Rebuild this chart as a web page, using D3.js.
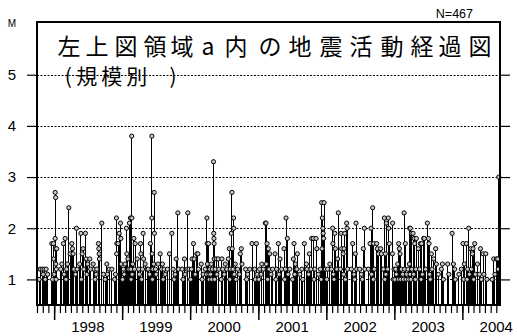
<!DOCTYPE html>
<html><head><meta charset="utf-8">
<script src="https://cdn.jsdelivr.net/npm/d3@7"></script>
<style>body{margin:0;background:#fff}svg{display:block}</style>
</head><body>
<svg id="c" width="517" height="336"></svg>
<script>
// ---- data: [decimal year, magnitude] ----
const ev1997=[[1997.779,1.0],[1997.794,1.2],[1997.824,1.2],[1997.838,1.1],[1997.853,1.2],[1997.868,1.0],[1997.882,1.2],[1997.904,1.1],[1997.966,1.7],[1997.978,1.0],[1997.990,1.7],[1997.993,1.4]];
const ev1998=[[1998.000,1.1],[1998.015,2.7],[1998.022,2.6],[1998.015,1.8],[1998.019,1.6],[1998.024,1.3],[1998.029,1.0],[1998.032,1.2],[1998.037,1.6],[1998.096,1.2],[1998.113,1.3],[1998.137,1.7],[1998.147,1.1],[1998.162,1.8],[1998.174,1.0],[1998.184,1.2],[1998.196,1.3],[1998.216,2.4],[1998.235,1.5],[1998.260,1.7],[1998.269,1.6],[1998.279,1.5],[1998.290,1.2],[1998.313,1.1],[1998.328,2.0],[1998.338,1.2],[1998.375,1.3],[1998.393,1.9],[1998.401,1.0],[1998.412,1.5],[1998.426,1.6],[1998.437,1.2],[1998.460,1.9],[1998.471,1.4],[1998.482,1.1],[1998.493,1.3],[1998.525,1.4],[1998.537,1.2],[1998.574,1.3],[1998.588,1.2],[1998.603,1.0],[1998.618,1.1],[1998.628,1.2],[1998.651,1.7],[1998.657,1.6],[1998.662,1.5],[1998.666,1.4],[1998.701,2.1],[1998.725,1.1],[1998.750,1.0],[1998.775,1.3],[1998.784,1.1],[1998.809,1.2],[1998.849,1.2],[1998.890,1.0],[1998.901,1.1],[1998.916,2.2],[1998.922,1.7],[1998.919,1.5],[1998.941,1.7],[1998.956,1.9],[1998.975,2.1],[1998.981,1.8],[1998.985,1.3]];
const ev1999=[[1999.007,1.0],[1999.019,1.2],[1999.029,1.1],[1999.044,1.3],[1999.063,2.0],[1999.069,1.5],[1999.085,1.4],[1999.099,1.2],[1999.107,2.1],[1999.122,2.2],[1999.128,1.2],[1999.132,1.0],[1999.140,3.8],[1999.143,2.2],[1999.147,1.1],[1999.154,1.3],[1999.172,1.8],[1999.181,1.2],[1999.191,1.7],[1999.221,1.4],[1999.243,1.2],[1999.254,1.1],[1999.269,1.7],[1999.276,1.5],[1999.287,1.0],[1999.299,1.2],[1999.309,1.9],[1999.316,1.4],[1999.338,1.3],[1999.368,1.2],[1999.382,1.2],[1999.404,1.1],[1999.416,1.7],[1999.437,3.8],[1999.437,2.2],[1999.441,1.5],[1999.446,1.0],[1999.451,1.2],[1999.463,1.3],[1999.471,2.7],[1999.475,1.9],[1999.490,1.2],[1999.500,1.1],[1999.529,1.3],[1999.559,1.5],[1999.581,1.2],[1999.593,1.3],[1999.603,1.0],[1999.618,1.2],[1999.632,1.1],[1999.666,1.2],[1999.696,1.5],[1999.731,1.9],[1999.750,1.2],[1999.765,1.0],[1999.779,1.1],[1999.794,1.4],[1999.819,2.3],[1999.828,1.2],[1999.882,1.2],[1999.897,1.0],[1999.916,1.4],[1999.926,1.1],[1999.956,1.2],[1999.966,2.3],[1999.985,1.2]];
const ev2000=[[2000.007,1.0],[2000.019,1.2],[2000.029,1.4],[2000.049,1.7],[2000.059,1.4],[2000.074,1.1],[2000.099,1.5],[2000.113,1.5],[2000.122,1.2],[2000.162,1.3],[2000.176,1.0],[2000.191,1.1],[2000.221,1.2],[2000.240,1.1],[2000.246,2.2],[2000.250,1.7],[2000.254,1.3],[2000.269,1.7],[2000.275,1.1],[2000.279,1.0],[2000.287,1.2],[2000.301,1.1],[2000.309,1.3],[2000.316,1.0],[2000.324,1.2],[2000.343,3.3],[2000.346,1.9],[2000.349,1.8],[2000.351,1.7],[2000.353,1.4],[2000.360,1.0],[2000.368,1.2],[2000.382,1.4],[2000.393,1.1],[2000.412,1.4],[2000.422,1.2],[2000.456,1.0],[2000.466,1.4],[2000.478,1.2],[2000.500,1.1],[2000.515,1.3],[2000.537,1.2],[2000.559,1.4],[2000.574,1.6],[2000.581,1.0],[2000.588,1.2],[2000.603,1.9],[2000.613,2.7],[2000.618,1.6],[2000.628,1.2],[2000.637,2.2],[2000.640,2.0],[2000.647,1.1],[2000.662,1.3],[2000.672,1.0],[2000.696,1.2],[2000.721,1.1],[2000.735,1.5],[2000.750,1.6],[2000.760,1.3],[2000.813,1.2],[2000.828,1.0],[2000.843,1.1],[2000.875,1.2],[2000.907,1.7],[2000.946,1.2],[2000.956,1.0],[2000.971,1.7],[2000.981,1.1]];
const ev2001=[[2001.007,1.0],[2001.019,1.2],[2001.040,1.1],[2001.051,1.3],[2001.074,1.2],[2001.103,2.1],[2001.113,2.1],[2001.118,1.3],[2001.128,1.7],[2001.137,1.0],[2001.147,1.6],[2001.157,1.2],[2001.166,1.5],[2001.187,1.1],[2001.210,1.2],[2001.246,1.5],[2001.257,1.0],[2001.269,1.2],[2001.294,1.7],[2001.304,1.1],[2001.319,1.4],[2001.343,1.2],[2001.378,1.6],[2001.387,1.0],[2001.397,1.2],[2001.407,2.2],[2001.426,1.8],[2001.437,1.1],[2001.463,1.2],[2001.504,1.0],[2001.515,1.4],[2001.525,1.7],[2001.534,1.1],[2001.544,1.3],[2001.566,1.2],[2001.574,1.5],[2001.610,1.1],[2001.640,1.2],[2001.654,1.0],[2001.676,1.7],[2001.706,1.3],[2001.716,1.2],[2001.740,1.1],[2001.750,1.5],[2001.772,1.2],[2001.784,1.8],[2001.809,1.8],[2001.819,1.0],[2001.831,1.2],[2001.849,1.8],[2001.860,1.6],[2001.882,1.1],[2001.912,1.2],[2001.922,1.0],[2001.931,2.5],[2001.937,1.6],[2001.941,2.2],[2001.949,2.0],[2001.953,1.9],[2001.959,1.8],[2001.966,2.5],[2001.985,1.2]];
const ev2002=[[2002.007,1.0],[2002.019,1.2],[2002.051,1.3],[2002.074,1.2],[2002.093,2.0],[2002.096,1.7],[2002.103,1.1],[2002.113,1.0],[2002.125,1.9],[2002.132,1.6],[2002.154,1.2],[2002.166,1.4],[2002.176,2.3],[2002.206,1.2],[2002.216,1.9],[2002.225,1.6],[2002.246,1.5],[2002.254,1.1],[2002.260,1.6],[2002.272,1.9],[2002.279,1.0],[2002.299,2.1],[2002.304,2.0],[2002.313,1.2],[2002.368,1.2],[2002.387,1.7],[2002.407,1.1],[2002.416,1.0],[2002.426,1.5],[2002.437,2.1],[2002.446,1.2],[2002.490,1.2],[2002.515,1.1],[2002.529,1.0],[2002.544,1.6],[2002.559,2.0],[2002.566,1.2],[2002.618,1.2],[2002.643,1.7],[2002.657,2.0],[2002.666,1.1],[2002.681,2.4],[2002.691,1.0],[2002.696,1.7],[2002.706,1.2],[2002.740,1.7],[2002.750,1.6],[2002.765,1.5],[2002.799,1.6],[2002.809,1.5],[2002.838,1.2],[2002.853,2.2],[2002.860,1.0],[2002.868,1.5],[2002.875,1.1],[2002.882,2.1],[2002.902,1.2],[2002.912,2.2],[2002.916,2.0],[2002.926,1.7],[2002.971,1.5],[2002.975,2.1],[2002.985,1.0],[2002.996,1.2]];
const ev2003=[[2003.007,1.0],[2003.019,1.2],[2003.029,1.1],[2003.049,1.3],[2003.059,1.0],[2003.063,1.7],[2003.074,1.6],[2003.084,1.5],[2003.093,1.0],[2003.103,1.2],[2003.122,1.1],[2003.132,1.0],[2003.143,2.3],[2003.151,1.2],[2003.162,1.7],[2003.172,1.0],[2003.181,1.1],[2003.201,1.2],[2003.210,1.0],[2003.221,1.3],[2003.225,2.0],[2003.231,1.1],[2003.235,2.0],[2003.243,1.0],[2003.250,1.9],[2003.257,1.2],[2003.275,1.9],[2003.284,1.1],[2003.290,1.8],[2003.299,1.7],[2003.309,1.0],[2003.316,1.2],[2003.324,1.8],[2003.353,1.6],[2003.372,1.2],[2003.382,1.7],[2003.393,1.0],[2003.401,1.7],[2003.412,1.1],[2003.431,1.8],[2003.441,1.8],[2003.460,1.2],[2003.485,2.1],[2003.500,1.8],[2003.510,1.7],[2003.519,1.1],[2003.529,1.0],[2003.544,1.5],[2003.554,1.2],[2003.578,1.4],[2003.607,1.6],[2003.618,1.3],[2003.647,1.1],[2003.691,1.2],[2003.706,1.3],[2003.721,1.0],[2003.784,1.3],[2003.801,1.1],[2003.849,1.9],[2003.868,1.3],[2003.887,1.2],[2003.897,1.0],[2003.949,1.1],[2003.985,1.2]];
const ev2004=[[2004.010,1.7],[2004.019,1.0],[2004.029,1.3],[2004.059,1.7],[2004.069,1.0],[2004.078,1.2],[2004.093,2.0],[2004.103,1.1],[2004.122,1.6],[2004.132,1.2],[2004.147,1.5],[2004.157,1.6],[2004.166,1.0],[2004.181,1.7],[2004.191,1.1],[2004.221,1.3],[2004.250,1.1],[2004.265,1.6],[2004.279,1.0],[2004.304,1.5],[2004.316,1.1],[2004.343,1.5],[2004.360,1.0],[2004.437,1.0],[2004.460,1.4],[2004.478,1.1],[2004.500,1.4],[2004.519,1.4],[2004.526,1.2],[2004.534,3.0]];

const magTicks=[1,2,3,4,5];
const yearLabels=["1998","1999","2000","2001","2002","2003","2004"];
const countLabel="N=467";
const axisLabel="M";
const title1=["左","上","図","領","域","a","内","の","地","震","活","動","経","過","図"];
const title2=["(","規","模","別",")"];

// ---- layout ----
const svg=d3.select("#c");
const L=37,R=500,T=22,B=305;
const toDate=v=>{const yr=Math.floor(v);const s=new Date(yr,0,1),e=new Date(yr+1,0,1);return new Date(+s+(v-yr)*(e-s));};
const events=[].concat(ev1997,ev1998,ev1999,ev2000,ev2001,ev2002,ev2003,ev2004).map(([t,m])=>({date:toDate(t),m}));
const x=d3.scaleTime().domain([new Date(1997,9,1),new Date(2004,6,21)]).range([L,R]);
const y=d3.scaleLinear().domain([0.5,6.03]).range([B,T]);
const font="'Liberation Sans',Arial,Helvetica,sans-serif";

// gridlines
svg.append("g").selectAll("line").data(magTicks).join("line")
  .attr("x1",L).attr("x2",R).attr("y1",d=>Math.round(y(d))+0.5).attr("y2",d=>Math.round(y(d))+0.5)
  .attr("stroke","#000").attr("stroke-width",1).attr("stroke-dasharray","2,1.5");

// stems
svg.append("g").attr("shape-rendering","crispEdges").selectAll("line").data(events).join("line")
  .attr("x1",d=>x(d.date)).attr("x2",d=>x(d.date))
  .attr("y1",B).attr("y2",d=>y(d.m))
  .attr("stroke","#000").attr("stroke-width",1);
// heads
svg.append("g").selectAll("circle").data(events).join("circle")
  .attr("cx",d=>x(d.date)).attr("cy",d=>y(d.m)).attr("r",2.1)
  .attr("fill","#c8c8c8").attr("stroke","#000").attr("stroke-width",1);

// y axes
const yl=svg.append("g").attr("transform",`translate(${L},0)`)
  .call(d3.axisLeft(y).tickValues(magTicks).tickSize(10).tickFormat(d3.format("d")));
yl.select(".domain").remove();
yl.selectAll("line").attr("stroke","#000").attr("stroke-width",1.2);
yl.selectAll("text").attr("x",-25).attr("text-anchor","middle").attr("font-family",font).attr("font-size",15).attr("fill","#000");
const yr=svg.append("g").attr("transform",`translate(${R},0)`)
  .call(d3.axisRight(y).tickValues(magTicks).tickSize(10).tickFormat(""));
yr.select(".domain").remove();
yr.selectAll("line").attr("stroke","#000").attr("stroke-width",1.2);

// x axes
const xm=svg.append("g").attr("transform",`translate(0,${B})`)
  .call(d3.axisBottom(x).tickValues(d3.timeMonth.range(x.domain()[0],x.domain()[1])).tickSize(8).tickFormat(""));
xm.select(".domain").remove();
xm.selectAll("line").attr("stroke","#000").attr("stroke-width",1.2);
const xy=svg.append("g").attr("transform",`translate(0,${B})`)
  .call(d3.axisBottom(x).tickValues(d3.timeYear.range(new Date(1998,0,1),x.domain()[1])).tickSize(15).tickFormat(""));
xy.select(".domain").remove();
xy.selectAll("line").attr("stroke","#000").attr("stroke-width",1.5);
svg.append("g").selectAll("text").data(yearLabels).join("text")
  .attr("x",d=>x(new Date(+d,6,1))).attr("y",332).attr("text-anchor","middle")
  .attr("font-family",font).attr("font-size",15).attr("fill","#000").text(d=>d);

// frame
svg.append("rect").attr("x",L).attr("y",T).attr("width",R-L).attr("height",B-T)
  .attr("fill","none").attr("stroke","#000").attr("stroke-width",2);

// labels
svg.append("text").attr("x",12).attr("y",27).attr("text-anchor","middle")
  .attr("font-family",font).attr("font-size",10).text(axisLabel);
svg.append("text").attr("x",473).attr("y",18).attr("text-anchor","end")
  .attr("font-family",font).attr("font-size",12.5).text(countLabel);

const t1x=[69,97,126,155,182,208,236,270,300,331,361,392,422,450,480];
const t2x=[68.3,86.7,111.7,136.7,173];
const cjk="'Noto Sans CJK JP','Noto Sans CJK SC',sans-serif";
svg.append("text").attr("y",54.5).attr("text-anchor","middle")
  .attr("font-family",cjk).attr("font-size",23).attr("fill","#000")
  .selectAll("tspan").data(title1).join("tspan").attr("x",(d,i)=>t1x[i]).text(d=>d);
svg.append("text").attr("y",83.5).attr("text-anchor","middle")
  .attr("font-family",cjk).attr("font-size",21).attr("fill","#000")
  .selectAll("tspan").data(title2).join("tspan").attr("x",(d,i)=>t2x[i]).text(d=>d);
</script>
</body></html>
